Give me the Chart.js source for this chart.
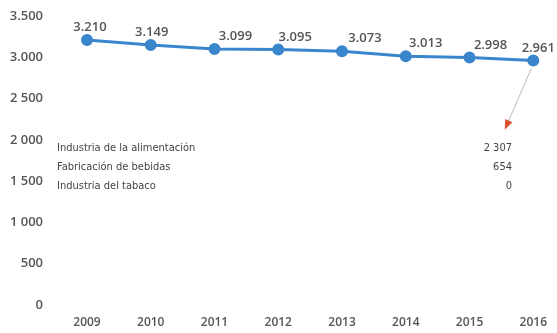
<!DOCTYPE html>
<html>
<head>
<meta charset="utf-8">
<script src="https://cdn.jsdelivr.net/npm/chart.js@4/dist/chart.umd.min.js"></script>
<style>
  html, body { margin: 0; padding: 0; background: #fff; }
  #wrap { position: relative; width: 557px; height: 333px; }
</style>
</head>
<body>
<div id="wrap"><canvas id="chart"></canvas></div>
<script>
// Data
const years = ['2009', '2010', '2011', '2012', '2013', '2014', '2015', '2016'];
const totals = [3210, 3149, 3099, 3095, 3073, 3013, 2998, 2961];
const yTicks = [0, 500, 1000, 1500, 2000, 2500, 3000, 3500];

// 2016 breakdown
const breakdownLabels = ['Industria de la alimentación', 'Fabricación de bebidas', 'Industria del tabaco'];
const breakdownValues = [2307, 654, 0];

// horizontal nudge for each value label (px)
const labelShift = [3, 1, 21, 17, 23, 20, 21, 5];

const fmt = (v) => String(v).replace(/\B(?=(\d{3})+(?!\d))/g, '.');
const fmtSpace = (v) => String(v).replace(/\B(?=(\d{3})+(?!\d))/g, ' ');

const textColor = '#555';
const lineColor = '#3a86cc';

// Value labels above points + breakdown annotation
const annotations = {
  id: 'annotations',
  afterDatasetsDraw(chart) {
    const ctx = chart.ctx;
    const meta = chart.getDatasetMeta(0);
    ctx.save();

    ctx.font = '600 13px "Open Sans", sans-serif';
    ctx.fillStyle = textColor;
    ctx.textAlign = 'center';
    ctx.textBaseline = 'bottom';
    meta.data.forEach((pt, i) => {
      ctx.fillText(fmt(totals[i]), pt.x + labelShift[i], pt.y - 6);
    });

    // breakdown block
    const left = chart.chartArea.left - 30;
    const right = 512;
    const top = 148;
    const rowH = 19;
    ctx.font = '11px "Liberation Sans Narrow", "DejaVu Sans Condensed", sans-serif';
    ctx.fillStyle = '#444';
    ctx.textBaseline = 'middle';
    breakdownLabels.forEach((lab, i) => {
      ctx.textAlign = 'left';
      ctx.fillText(lab, left, top + i * rowH);
      ctx.textAlign = 'right';
      ctx.fillText(fmtSpace(breakdownValues[i]), right, top + i * rowH);
    });

    // arrow from last point to the block
    const last = meta.data[meta.data.length - 1];
    const x0 = last.x - 2, y0 = last.y + 8;
    const x1 = right - 6, y1 = top - 21;
    ctx.strokeStyle = '#bbb';
    ctx.lineWidth = 1;
    ctx.beginPath();
    ctx.moveTo(x0, y0);
    ctx.lineTo(x1, y1);
    ctx.stroke();
    const ang = Math.atan2(y1 - y0, x1 - x0);
    ctx.fillStyle = '#d9542c';
    ctx.beginPath();
    ctx.moveTo(x1 + 3 * Math.cos(ang), y1 + 3 * Math.sin(ang));
    ctx.lineTo(x1 - 7 * Math.cos(ang) + 4 * Math.sin(ang), y1 - 7 * Math.sin(ang) - 4 * Math.cos(ang));
    ctx.lineTo(x1 - 7 * Math.cos(ang) - 4 * Math.sin(ang), y1 - 7 * Math.sin(ang) + 4 * Math.cos(ang));
    ctx.closePath();
    ctx.fill();

    ctx.restore();
  }
};

new Chart(document.getElementById('chart'), {
  type: 'line',
  data: {
    labels: years,
    datasets: [{
      data: totals,
      borderColor: lineColor,
      backgroundColor: lineColor,
      borderWidth: 3,
      pointRadius: 4.5,
      pointHoverRadius: 4.5,
      tension: 0
    }]
  },
  options: {
    responsive: true,
    maintainAspectRatio: false,
    animation: false,
    layout: { padding: { left: 0, right: 22, top: 16, bottom: 0 } },
    plugins: {
      legend: { display: false },
      tooltip: { enabled: false }
    },
    scales: {
      x: {
        offset: false,
        grid: { display: false, drawTicks: false },
        border: { display: false },
        afterFit: (axis) => {
          axis.height = 28;
          axis.paddingTop = 0;
          axis.paddingBottom = 0;
        },
        ticks: {
          color: textColor,
          padding: 10,
          maxRotation: 0,
          font: { family: '"Open Sans", sans-serif', size: 12, weight: '600' }
        }
      },
      y: {
        min: 0,
        max: 3500,
        afterBuildTicks: (axis) => { axis.ticks = yTicks.map(v => ({ value: v })); },
        afterFit: (axis) => {
          axis.width = 87;
          axis.paddingTop = 0;
          axis.paddingBottom = 0;
        },
        grid: { display: false, drawTicks: false },
        border: { display: false },
        ticks: {
          color: textColor,
          padding: 44,
          font: { family: '"Open Sans", sans-serif', size: 13, weight: '600' },
          callback: (v) => v >= 1000 ? (v === 3500 || v === 3000 ? fmt(v) : fmtSpace(v)) : String(v)
        }
      }
    }
  },
  plugins: [annotations]
});
</script>
</body>
</html>
